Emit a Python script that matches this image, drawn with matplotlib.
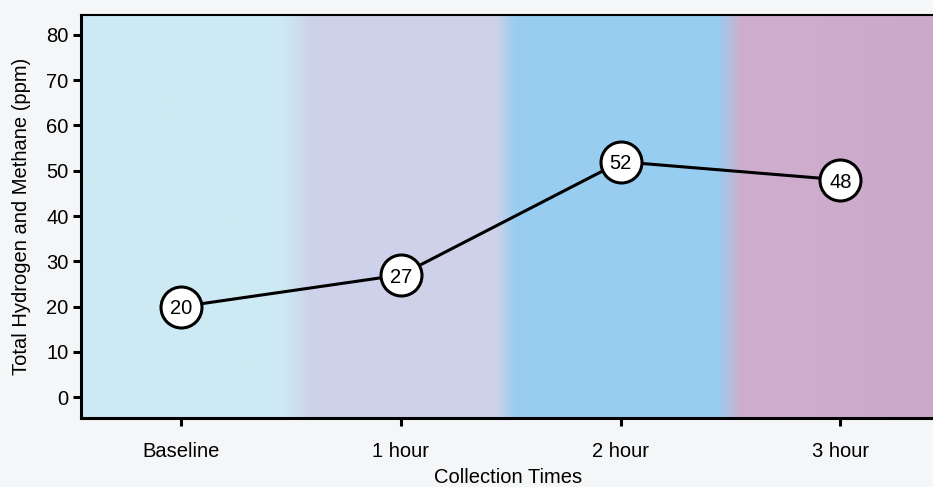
import numpy as np
import matplotlib.pyplot as plt
from matplotlib.colors import to_rgb

times = ["Baseline", "1 hour", "2 hour", "3 hour"]
gas_ppm = [20, 27, 52, 48]

plt.rcParams['font.family'] = ['Liberation Sans', 'DejaVu Sans']

fig = plt.figure(figsize=(9.33, 4.87), dpi=100, facecolor='#f5f6f8')
ax = fig.add_axes([81/933, 1 - 418/487, 1 - 81/933 + 0.002, (418 - 15)/487])

x = np.arange(len(times))
xlim = (-0.456, 3.43)
ylim = (-4.6, 84.4)

# background bands (style only)
stops = [(-0.456, '#cdeaf4'), (0.465, '#cdeaf4'), (0.59, '#cdd1ea'),
         (1.43, '#cfd2e8'), (1.52, '#99cdf0'), (2.44, '#97cdf0'),
         (2.55, '#cfaecd'), (3.43, '#cba9cb')]
sx = np.array([s[0] for s in stops])
sc = np.array([to_rgb(s[1]) for s in stops])
gx = np.linspace(xlim[0], xlim[1], 900)
grad = np.stack([np.interp(gx, sx, sc[:, k]) for k in range(3)], axis=-1)
ax.imshow(grad[np.newaxis, :, :], extent=[xlim[0], xlim[1], ylim[0], ylim[1]],
          aspect='auto', zorder=0, interpolation='bilinear')

ax.plot(x, gas_ppm, color='black', lw=2.2, zorder=2)
ax.plot(x, gas_ppm, 'o', ms=29.5, mfc='white', mec='black', mew=2.2, zorder=3)
for xi, v in zip(x, gas_ppm):
    ax.text(xi, v - 0.5, str(v), ha='center', va='center', fontsize=14.5, zorder=4)

ax.set_xlim(*xlim)
ax.set_ylim(*ylim)
ax.set_xticks(x)
ax.set_xticklabels(times)
ax.set_yticks(range(0, 81, 10))
ax.tick_params(axis='y', labelsize=14.5, length=6, width=2.2, pad=3)
ax.tick_params(axis='x', labelsize=14.5, length=6, width=2.2, pad=11)
for sp in ['left', 'bottom']:
    ax.spines[sp].set_linewidth(2.2)
ax.spines['top'].set_linewidth(1.5)
ax.spines['right'].set_visible(False)

ax.set_xlabel("Collection Times", fontsize=14.5, labelpad=5)
ax.set_ylabel("Total Hydrogen and Methane (ppm)", fontsize=14.5, labelpad=11)

fig.savefig("out.png", dpi=100, facecolor=fig.get_facecolor())
